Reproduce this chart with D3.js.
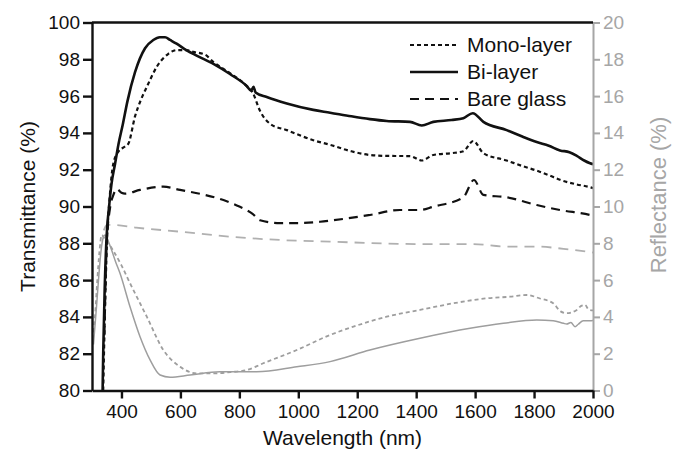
<!DOCTYPE html>
<html>
<head>
<meta charset="utf-8">
<script src="https://cdn.jsdelivr.net/npm/d3@7"></script>
<style>
  html, body { margin: 0; padding: 0; background: #fff; }
  svg { display: block; font-family: "Liberation Sans", Arial, Helvetica, sans-serif; }
</style>
</head>
<body>
<svg id="chart" width="685" height="459"></svg>
<script>
// Transmittance (left axis) and reflectance (right axis) spectra, [wavelength nm, %]
const monoT = [[338,80],[345,85],[352,88.5],[360,90.5],[372,92.3],[390,93],[406,93.2],[423,93.4],[446,94.9],[466,95.8],[486,96.5],[520,97.6],[559,98.3],[587,98.5],[620,98.5],[644,98.4],[684,98.25],[712,97.85],[768,97.25],[825,96.55],[845,96.2],[870,95.2],[904,94.5],[961,94.15],[1051,93.6],[1108,93.35],[1180,93.0],[1243,92.8],[1300,92.75],[1379,92.74],[1419,92.5],[1458,92.8],[1520,92.9],[1560,93],[1594,93.56],[1628,92.9],[1707,92.5],[1760,92.2],[1809,91.95],[1850,91.7],[1888,91.45],[1945,91.2],[1990,91.05],[2000,91.0]];

const biT = [[334,78],[338,82],[343,85.5],[350,88.5],[358,90],[366,91.2],[378,92.3],[390,93.4],[405,94.5],[420,95.7],[446,97.3],[480,98.6],[508,99.05],[530,99.2],[548,99.2],[565,99.05],[587,98.85],[620,98.5],[655,98.2],[712,97.75],[768,97.2],[825,96.55],[840,96.3],[848,96.5],[855,96.2],[893,95.95],[961,95.6],[1051,95.25],[1108,95.1],[1180,94.9],[1243,94.75],[1300,94.65],[1379,94.6],[1419,94.4],[1458,94.6],[1520,94.7],[1560,94.8],[1592,95.07],[1628,94.6],[1707,94.15],[1760,93.8],[1809,93.5],[1850,93.3],[1888,93.05],[1920,92.95],[1945,92.75],[1970,92.5],[1990,92.35],[2000,92.3]];

const bareT = [[342,83],[350,88],[361,89.9],[372,90.6],[384,90.95],[400,90.75],[412,90.7],[463,90.9],[542,91.08],[599,90.9],[678,90.65],[746,90.35],[800,90.0],[825,89.8],[845,89.6],[870,89.25],[938,89.1],[1000,89.1],[1074,89.17],[1108,89.23],[1243,89.54],[1345,89.81],[1413,89.81],[1458,89.99],[1560,90.5],[1596,91.44],[1628,90.63],[1707,90.5],[1809,90.08],[1888,89.81],[1990,89.54],[2000,89.5]];

const monoR = [[301,2.8],[310,4.0],[318,6.0],[325,7.5],[333,8.45],[345,8.2],[360,7.9],[372,7.6],[400,6.8],[429,5.83],[486,4.01],[542,2.2],[599,1.29],[655,0.93],[712,0.93],[770,1.0],[825,1.11],[881,1.48],[995,2.2],[1108,3.02],[1187,3.47],[1300,4.01],[1413,4.38],[1526,4.74],[1639,5.01],[1720,5.1],[1775,5.19],[1820,5.0],[1865,4.74],[1890,4.3],[1911,4.2],[1945,4.38],[1960,4.6],[1973,4.65],[1985,4.4],[2000,4.35]];

const biR = [[305,2.5],[315,4.5],[322,6.0],[330,7.5],[338,8.3],[344,8.45],[350,8.3],[365,7.7],[380,7.0],[395,6.37],[429,4.55],[463,2.92],[497,1.66],[531,0.84],[565,0.72],[633,0.84],[734,1.02],[859,1.02],[995,1.29],[1108,1.57],[1243,2.2],[1413,2.84],[1583,3.38],[1696,3.65],[1809,3.83],[1865,3.79],[1900,3.65],[1911,3.61],[1925,3.7],[1939,3.47],[1950,3.6],[1967,3.79],[1990,3.79],[2000,3.8]];

const bareR = [[340,8.7],[350,9.0],[372,9.0],[450,8.85],[599,8.63],[768,8.36],[938,8.18],[1108,8.09],[1413,7.96],[1594,7.96],[1707,7.82],[1809,7.82],[1900,7.7],[2000,7.5]];

const xTicks = [400, 600, 800, 1000, 1200, 1400, 1600, 1800, 2000];
const tTicks = [80, 82, 84, 86, 88, 90, 92, 94, 96, 98, 100];
const rTicks = [0, 2, 4, 6, 8, 10, 12, 14, 16, 18, 20];
const legendLabels = ["Mono-layer", "Bi-layer", "Bare glass"];

const svg = d3.select("#chart");
const pLeft = 92, pRight = 593, pTop = 22.5, pBottom = 390.5;
const grey = "#a6a6a6";

const x = d3.scaleLinear().domain([300, 2000]).range([pLeft, pRight]);
const yT = d3.scaleLinear().domain([80, 100]).range([pBottom, pTop]);
const yR = d3.scaleLinear().domain([0, 20]).range([pBottom, pTop]);

svg.append("defs").append("clipPath").attr("id", "plot")
  .append("rect").attr("x", pLeft).attr("y", pTop).attr("width", pRight - pLeft).attr("height", pBottom - pTop);

const lineT = d3.line().x(d => x(d[0])).y(d => yT(d[1])).curve(d3.curveMonotoneX);
const lineR = d3.line().x(d => x(d[0])).y(d => yR(d[1])).curve(d3.curveMonotoneX);

const plot = svg.append("g").attr("clip-path", "url(#plot)");

// reflectance (grey)
plot.append("path").datum(bareR).attr("d", lineR).attr("fill", "none")
  .attr("stroke", "#b0b0b0").attr("stroke-width", 1.8).attr("stroke-dasharray", "10,7");
plot.append("path").datum(monoR).attr("d", lineR).attr("fill", "none")
  .attr("stroke", "#9e9e9e").attr("stroke-width", 1.8).attr("stroke-dasharray", "4,3");
plot.append("path").datum(biR).attr("d", lineR).attr("fill", "none")
  .attr("stroke", "#9e9e9e").attr("stroke-width", 1.5);

// transmittance (black)
plot.append("path").datum(bareT).attr("d", lineT).attr("fill", "none")
  .attr("stroke", "#111").attr("stroke-width", 2.2).attr("stroke-dasharray", "9,6");
plot.append("path").datum(monoT).attr("d", lineT).attr("fill", "none")
  .attr("stroke", "#111").attr("stroke-width", 2.2).attr("stroke-dasharray", "4,3");
plot.append("path").datum(biT).attr("d", lineT).attr("fill", "none")
  .attr("stroke", "#111").attr("stroke-width", 2.6);

// axes
const fs = "19px";
const gL = svg.append("g").attr("transform", `translate(${pLeft},0)`)
  .call(d3.axisLeft(yT).tickValues(tTicks).tickSize(9).tickPadding(3).tickSizeOuter(0));
gL.selectAll("text").attr("font-size", fs).attr("fill", "#111").attr("font-family", null);
gL.selectAll("line, path").attr("stroke", "#111").attr("stroke-width", 2.4);

const gR = svg.append("g").attr("transform", `translate(${pRight},0)`)
  .call(d3.axisRight(yR).tickValues(rTicks).tickSize(7).tickPadding(3).tickSizeOuter(0));
gR.selectAll("text").attr("font-size", fs).attr("fill", grey).attr("font-family", null);
gR.selectAll("line, path").attr("stroke", grey).attr("stroke-width", 2);

const gB = svg.append("g").attr("transform", `translate(0,${pBottom})`)
  .call(d3.axisBottom(x).tickValues(xTicks).tickFormat(d3.format("d"))
    .tickSize(8).tickPadding(6).tickSizeOuter(0));
gB.selectAll("text").attr("font-size", fs).attr("fill", "#111").attr("font-family", null);
gB.selectAll("line, path").attr("stroke", "#111").attr("stroke-width", 2.4);

svg.append("line").attr("x1", pLeft).attr("x2", pRight).attr("y1", pTop).attr("y2", pTop)
  .attr("stroke", "#111").attr("stroke-width", 2.4);

// axis titles
svg.append("text").attr("x", (pLeft + pRight) / 2).attr("y", 445).attr("text-anchor", "middle")
  .attr("font-size", "21px").attr("fill", "#111").text("Wavelength (nm)");
svg.append("text").attr("transform", `translate(35,${(pTop + pBottom) / 2}) rotate(-90)`)
  .attr("text-anchor", "middle").attr("font-size", "21px").attr("fill", "#111").text("Transmittance (%)");
svg.append("text").attr("transform", `translate(666,195) rotate(-90)`)
  .attr("text-anchor", "middle").attr("font-size", "22px").attr("fill", grey).text("Reflectance (%)");

// legend
const dashes = ["4,3", null, "9,6"];
const widths = [2.2, 2.6, 2.2];
const lg = svg.append("g");
legendLabels.forEach((lab, i) => {
  const yy = 45 + i * 27;
  lg.append("line").attr("x1", 410).attr("x2", 458).attr("y1", yy).attr("y2", yy)
    .attr("stroke", "#111").attr("stroke-width", widths[i]).attr("stroke-dasharray", dashes[i]);
  lg.append("text").attr("x", 467).attr("y", yy).attr("dy", "0.35em")
    .attr("font-size", "21px").attr("fill", "#111").text(lab);
});
</script>
</body>
</html>
